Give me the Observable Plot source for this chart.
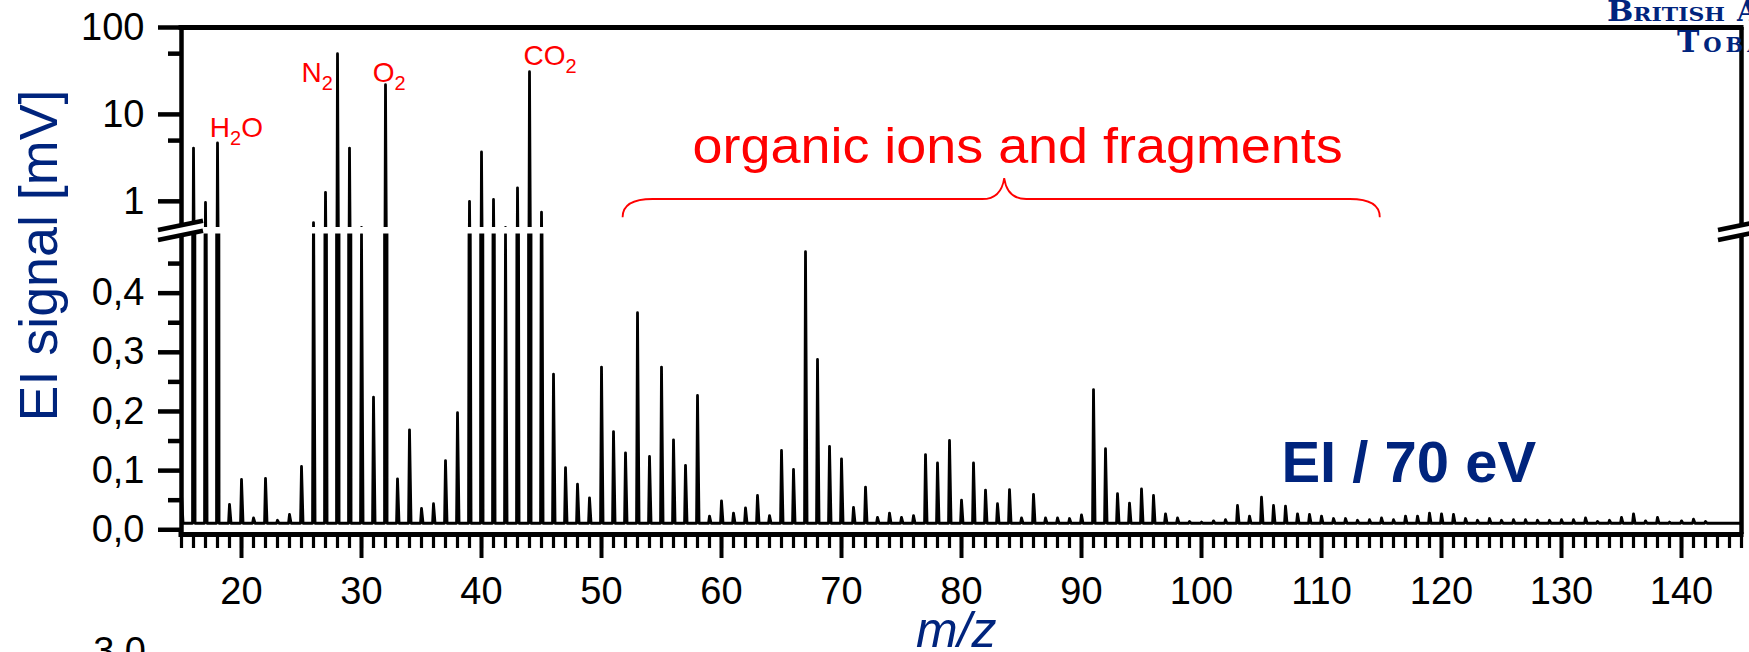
<!DOCTYPE html>
<html><head><meta charset="utf-8">
<script src="https://cdn.jsdelivr.net/npm/d3@7"></script>
<script src="https://cdn.jsdelivr.net/npm/@observablehq/plot@0.6"></script>
<style>
html,body{margin:0;padding:0;background:#fff;}
#chart{position:relative;width:1749px;height:652px;overflow:hidden;font-family:"Liberation Sans",Arial,sans-serif;background:#fff;}
#chart svg{position:absolute;left:0;}
</style></head><body><div id="chart"></div>
<script>
// ---- data ----
const peakMz = [15,16,17,18,19,20,21,22,23,24,25,26,27,28,29,30,31,32,33,34,35,36,37,38,39,40,41,42,43,44,45,46,47,48,49,50,51,52,53,54,55,56,57,58,59,60,61,62,63,64,65,66,67,68,69,70,71,72,73,74,75,76,77,78,79,80,81,82,83,84,85,86,87,88,89,90,91,92,93,94,95,96,97,98,99,100,101,102,103,104,105,106,107,108,109,110,111,112,113,114,115,116,117,118,119,120,121,122,123,124,125,126,127,128,129,130,131,132,133,134,135,136,137,138,139,140,141,142];
const peakHeight = [0.06,4.1,0.97,4.7,0.043,0.085,0.02,0.087,0.016,0.026,0.107,0.57,1.27,50,4.1,0.5,0.224,22,0.086,0.169,0.036,0.044,0.117,0.198,1.0,3.7,1.05,0.5,1.43,31,0.75,0.263,0.105,0.077,0.054,0.275,0.166,0.130,0.367,0.124,0.275,0.152,0.109,0.227,0.023,0.049,0.028,0.037,0.058,0.024,0.134,0.102,0.47,0.288,0.141,0.120,0.038,0.072,0.021,0.028,0.021,0.024,0.127,0.113,0.151,0.050,0.113,0.067,0.044,0.068,0.020,0.060,0.020,0.020,0.019,0.025,0.237,0.137,0.061,0.045,0.069,0.058,0.027,0.020,0.014,0.013,0.015,0.017,0.041,0.023,0.055,0.041,0.040,0.027,0.026,0.023,0.019,0.019,0.016,0.017,0.020,0.017,0.023,0.023,0.028,0.027,0.026,0.019,0.016,0.019,0.016,0.017,0.017,0.016,0.016,0.017,0.017,0.020,0.014,0.016,0.021,0.027,0.015,0.021,0.013,0.015,0.018,0.014];
const baseline = 0.011;
const xDomain = [15, 145];
const xTicks = [20,30,40,50,60,70,80,90,100,110,120,130,140];
const yDomainLog = [0.5, 100];
const yTicksLog = [1, 10, 100];
const yMinorLog = [5, 50];
const yDomainLin = [-0.008, 0.5];
const yTicksLin = [0, 0.1, 0.2, 0.3, 0.4];
const yMinorLin = [0.05, 0.15, 0.25, 0.35, 0.45];
const gasMain = ["H", "N", "O", "CO"];
const gasSub = ["2", "2", "2", "2"];
const gasTail = ["O", "", "", ""];
const gasMz = [17.4, 25.04, 30.97, 43.55];
const gasVal = [5.39, 23.6, 23.4, 36.3];
const braceMz = [51.8, 83.6, 114.9];
const braceLevel = [0.648, 1.05, 1.83];
const organicText = "organic ions and fragments";
const organicPos = [84.72, 2.72];
const eiText = "EI / 70 eV";
const eiPos = [106.7, 0.080];
const yTitle = "EI signal [mV]";
const xTitle = "m/z";

// ---- build trace ----
const trace = [];
peakMz.forEach((m, i) => {
  trace.push({mz: m - 0.08, v: baseline}, {mz: m, v: peakHeight[i]}, {mz: m + 0.13, v: baseline});
});
trace.push({mz: xDomain[1], v: baseline});

const FONT = '"Liberation Sans", Arial, sans-serif';
const style = {fontFamily: FONT, background: "transparent", overflow: "visible", color: "#000"};
const blue = "#00247d";
const chart = document.getElementById("chart");

const topPlot = Plot.plot({
  width: 1749, height: 230, marginLeft: 181, marginRight: 8, marginTop: 27, marginBottom: 3,
  style,
  x: {domain: xDomain, axis: null},
  y: {type: "log", domain: yDomainLog},
  marks: [
    Plot.line(trace, {x: "mz", y: "v", stroke: "#000", strokeWidth: 2.8, clip: true}),
    Plot.ruleX(xDomain, {strokeWidth: 4.5}),
    Plot.ruleY([yDomainLog[1]], {strokeWidth: 5, strokeLinecap: "square"}),
    Plot.axisY({ticks: yTicksLog, tickSize: 23, tickPadding: 14, fontSize: 38, strokeWidth: 4.5, tickFormat: d => String(d), label: null}),
    Plot.axisY({ticks: yMinorLog, tickSize: 13, text: null, strokeWidth: 4.5, label: null})
  ]
});
topPlot.style.top = "0px";
chart.appendChild(topPlot);

const botPlot = Plot.plot({
  width: 1749, height: 422, marginLeft: 181, marginRight: 8, marginTop: 3.5, marginBottom: 118,
  style,
  x: {domain: xDomain},
  y: {domain: yDomainLin},
  marks: [
    Plot.line(trace, {x: "mz", y: "v", stroke: "#000", strokeWidth: 2.8, clip: true}),
    Plot.ruleX(xDomain, {strokeWidth: 4.5}),
    Plot.ruleY([yDomainLin[0]], {strokeWidth: 5, strokeLinecap: "square"}),
    Plot.axisY({ticks: yTicksLin, tickSize: 23, tickPadding: 14, fontSize: 38, strokeWidth: 4.5, tickFormat: d => d.toFixed(1).replace(".", ","), label: null}),
    Plot.axisY({ticks: yMinorLin, tickSize: 13, text: null, strokeWidth: 4.5, label: null}),
    Plot.axisX({ticks: xTicks, tickSize: 24, tickPadding: 19, fontSize: 38, strokeWidth: 4, label: null}),
    Plot.axisX({ticks: d3.range(xDomain[0], xDomain[1] + 1), tickSize: 14, text: null, strokeWidth: 3.2, label: null})
  ]
});
botPlot.style.top = "230px";
chart.appendChild(botPlot);

// ---- annotations in the top panel ----
const sxT = topPlot.scale("x"), syT = topPlot.scale("y");
const gT = d3.select(topPlot).append("g").attr("font-family", FONT).attr("fill", "#ff0000").attr("text-anchor", "start");
gasMain.forEach((t, i) => {
  const txt = gT.append("text").attr("x", sxT.apply(gasMz[i])).attr("y", syT.apply(gasVal[i])).attr("font-size", 28);
  txt.append("tspan").text(t);
  txt.append("tspan").attr("font-size", 20).attr("dy", 8).text(gasSub[i]);
  if (gasTail[i]) txt.append("tspan").attr("font-size", 28).attr("dy", -8).text(gasTail[i]);
});
gT.append("text").attr("x", sxT.apply(organicPos[0])).attr("y", syT.apply(organicPos[1]))
  .attr("text-anchor", "middle").attr("font-size", 50)
  .attr("textLength", 650).attr("lengthAdjust", "spacingAndGlyphs").text(organicText);
{
  const bx = braceMz.map(m => sxT.apply(m));
  const [yE, yH, yT] = braceLevel.map(v => syT.apply(v));
  const r = 30;
  const p = `M${bx[0]},${yE} Q${bx[0]},${yH} ${bx[0]+r},${yH} L${bx[1]-22},${yH} Q${bx[1]-3},${yH} ${bx[1]},${yT} Q${bx[1]+3},${yH} ${bx[1]+22},${yH} L${bx[2]-r},${yH} Q${bx[2]},${yH} ${bx[2]},${yE}`;
  d3.select(topPlot).append("path").attr("d", p).attr("fill", "none").attr("stroke", "#ff0000").attr("stroke-width", 1.8);
}

// ---- annotation in the bottom panel ----
const sxB = botPlot.scale("x"), syB = botPlot.scale("y");
d3.select(botPlot).append("text").attr("x", sxB.apply(eiPos[0])).attr("y", syB.apply(eiPos[1]))
  .attr("text-anchor", "start")
  .attr("font-family", FONT).attr("font-weight", "bold").attr("font-size", 58).attr("fill", blue).text(eiText);

// ---- overlay: titles, axis breaks, logo ----
const ov = d3.select(chart).append("svg").attr("width", 1749).attr("height", 652)
  .style("position", "absolute").style("top", "0px").style("left", "0px").style("pointer-events", "none");
[sxT.apply(xDomain[0]), sxT.apply(xDomain[1])].forEach(x => {
  ov.append("path").attr("d", `M${x-23},${230} L${x+22},${220.7} L${x+22},${231} L${x-23},${240} Z`).attr("fill", "#fff");
  ov.append("line").attr("x1", x-23).attr("y1", 230).attr("x2", x+22).attr("y2", 220.7).attr("stroke", "#000").attr("stroke-width", 4.5);
  ov.append("line").attr("x1", x-23).attr("y1", 240).attr("x2", x+22).attr("y2", 230.7).attr("stroke", "#000").attr("stroke-width", 4.5);
});
ov.append("text").attr("transform", "translate(57,255.5) rotate(-90)").attr("text-anchor", "middle")
  .attr("font-family", FONT).attr("font-size", 54).attr("fill", blue)
  .attr("textLength", 332).attr("lengthAdjust", "spacingAndGlyphs").text(yTitle);
ov.append("text").attr("x", sxT.apply(79.6)).attr("y", 647).attr("text-anchor", "middle")
  .attr("font-family", FONT).attr("font-style", "italic").attr("font-size", 50).attr("fill", blue).text(xTitle);
ov.append("text").attr("x", 146).attr("y", 663.5).attr("text-anchor", "end")
  .attr("font-family", FONT).attr("font-size", 38).attr("fill", "#000").text("3,0");
const logo = ov.append("g").attr("font-family", '"DejaVu Serif", serif').attr("font-weight", "bold")
  .attr("fill", blue).style("font-variant", "small-caps").attr("font-size", 27);
logo.append("text").attr("x", 1607).attr("y", 20.5).attr("textLength", 118).attr("lengthAdjust", "spacingAndGlyphs").text("British");
logo.append("text").attr("x", 1737).attr("y", 20.5).text("American");
logo.append("text").attr("x", 1677).attr("y", 51.5).attr("font-size", 30).attr("letter-spacing", 4).text("Tobacco");
</script></body></html>
